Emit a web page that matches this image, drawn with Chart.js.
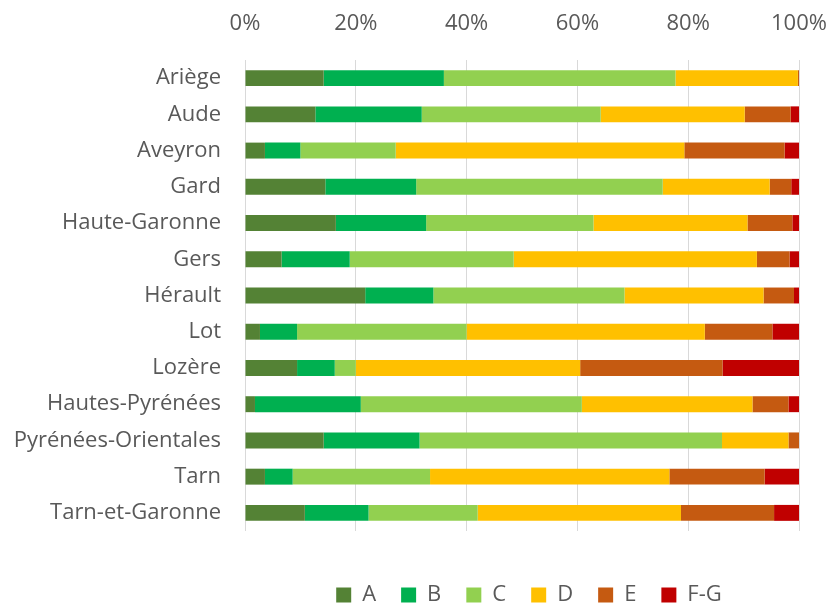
<!DOCTYPE html>
<html>
<head>
<meta charset="utf-8">
<script src="https://cdn.jsdelivr.net/npm/chart.js@4"></script>
<style>
  body { margin: 0; background: #fff; }
  #wrap { width: 829px; height: 603px; }
</style>
</head>
<body>
<div id="wrap"><canvas id="dpeChart"></canvas></div>
<script>
const departements = ['Ariège', 'Aude', 'Aveyron', 'Gard', 'Haute-Garonne', 'Gers', 'Hérault', 'Lot',
  'Lozère', 'Hautes-Pyrénées', 'Pyrénées-Orientales', 'Tarn', 'Tarn-et-Garonne'];

// share of each class, in %
const classA  = [14.2, 12.7, 3.6, 14.5, 16.4, 6.6, 21.7, 2.7, 9.4, 1.8, 14.2, 3.6, 10.8];
const classB  = [21.7, 19.2, 6.4, 16.4, 16.3, 12.3, 12.3, 6.7, 6.8, 19.1, 17.3, 5.0, 11.5];
const classC  = [41.8, 32.3, 17.2, 44.5, 30.2, 29.6, 34.5, 30.6, 3.8, 39.9, 54.6, 24.8, 19.7];
const classD  = [22.1, 26.0, 52.1, 19.3, 27.8, 43.9, 25.1, 43.0, 40.5, 30.8, 12.0, 43.2, 36.7];
const classE  = [0.2, 8.3, 18.1, 3.9, 8.1, 5.9, 5.5, 12.2, 25.7, 6.5, 1.9, 17.2, 16.8];
const classFG = [0.0, 1.5, 2.6, 1.4, 1.2, 1.7, 0.9, 4.8, 13.8, 1.9, 0.0, 6.2, 4.5];

const xTicks = [0, 20, 40, 60, 80, 100];

const textColor = '#595959';
const font = { family: "'Open Sans', 'Noto Sans', sans-serif", size: 22 };

function serie(label, data, color) {
  return {
    label: label,
    data: data,
    backgroundColor: color,
    borderWidth: 0,
    categoryPercentage: 0.5,
    barPercentage: 0.88
  };
}

// legend sits under the plot area, a bit lower than chart.js puts it
const legendUnderPlot = {
  id: 'legendUnderPlot',
  afterLayout(chart) {
    const lg = chart.legend;
    lg.left = chart.chartArea.left + 7;
    lg.right = chart.chartArea.right + 7;
    lg.top += 28;
    lg.bottom += 28;
  }
};

const ctx = document.getElementById('dpeChart').getContext('2d');

new Chart(ctx, {
  type: 'bar',
  data: {
    labels: departements,
    datasets: [
      serie('A', classA, '#548235'),
      serie('B', classB, '#00B050'),
      serie('C', classC, '#92D050'),
      serie('D', classD, '#FFC000'),
      serie('E', classE, '#C55A11'),
      serie('F-G', classFG, '#C00000')
    ]
  },
  options: {
    indexAxis: 'y',
    responsive: true,
    maintainAspectRatio: false,
    animation: false,
    layout: {
      padding: { left: 0, right: 30, top: 0, bottom: 15 }
    },
    plugins: {
      legend: {
        position: 'bottom',
        labels: {
          boxWidth: 15,
          boxHeight: 15,
          padding: 25,
          color: textColor,
          font: font
        }
      },
      tooltip: { enabled: false }
    },
    scales: {
      x: {
        position: 'top',
        stacked: true,
        min: 0,
        max: 100,
        afterBuildTicks: function(scale) {
          scale.ticks = xTicks.map(v => ({ value: v }));
        },
        afterFit: function(scale) {
          scale.height = 60;
          scale.paddingLeft = 0;
          scale.paddingRight = 0;
        },
        ticks: {
          padding: 23,
          maxRotation: 0,
          color: textColor,
          font: font,
          callback: function(value) {
            return value + '%';
          }
        },
        grid: {
          color: '#d9d9d9',
          drawTicks: false
        },
        border: { display: false }
      },
      y: {
        stacked: true,
        afterFit: function(scale) {
          scale.width = 245;
        },
        ticks: {
          padding: 16,
          color: textColor,
          font: font
        },
        grid: { display: false },
        border: { display: false }
      }
    }
  },
  plugins: [legendUnderPlot]
});
</script>
</body>
</html>
